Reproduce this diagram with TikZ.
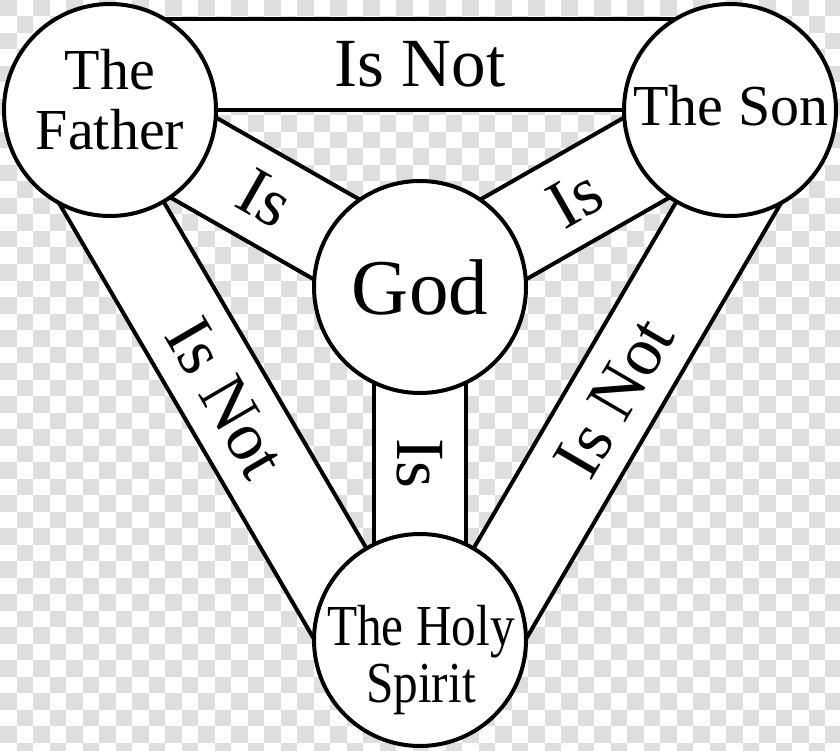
\documentclass[tikz,border=0pt]{standalone}
\usepackage{fontspec}
\setmainfont{Liberation Serif}
\newfontfamily\narrowserif[FakeStretch=0.85]{Liberation Serif}
\definecolor{checkgray}{HTML}{DEDEDE}
\usepackage{tikz}
\usetikzlibrary{calc}

\begin{document}
\begin{tikzpicture}[x=1pt, y=-1pt,
  band/.style={draw=black, fill=white, line width=4pt},
  person/.style={circle, draw=black, fill=white, line width=4pt, minimum size=212pt, inner sep=0pt},
  bandtext/.style={inner sep=0pt, font=\fontsize{69}{72}\selectfont},
  persontext/.style={inner sep=0pt, align=center, font=\fontsize{58}{60}\selectfont}]
\useasboundingbox (0,0) rectangle (840,751);
% checkered backdrop
\fill[white] (0,0) rectangle (840,751);
\begin{scope}
\clip (0,0) rectangle (840,751);
\foreach \i in {0,...,50}
  \foreach \j in {0,...,45} {
    \pgfmathtruncatemacro{\parity}{mod(\i+\j,2)}
    \ifnum\parity=0 \fill[checkgray] (\i*16.5,\j*16.5) rectangle ++(16.5,16.5); \fi
  }
\end{scope}
\coordinate (F) at (110,110);
\coordinate (S) at (730,110);
\coordinate (G) at (420,287);
\coordinate (H) at (420,640);
% outer bands
\draw[band] (F) -- ($(F)!91pt!90:(S)$) coordinate (FSa) -- ($(S)!91pt!-90:(F)$) -- (S) -- cycle;
\draw[band] (F) -- ($(F)!91pt!-90:(H)$) coordinate (FHa) -- ($(H)!91pt!90:(F)$) -- (H) -- cycle;
\draw[band] (S) -- ($(S)!91pt!90:(H)$) coordinate (SHa) -- ($(H)!91pt!-90:(S)$) -- (H) -- cycle;
% inner bands
\draw[band] ($(F)!46pt!90:(G)$) -- ($(G)!46pt!-90:(F)$) -- ($(G)!46pt!90:(F)$) -- ($(F)!46pt!-90:(G)$) -- cycle;
\draw[band] ($(S)!46pt!90:(G)$) -- ($(G)!46pt!-90:(S)$) -- ($(G)!46pt!90:(S)$) -- ($(S)!46pt!-90:(G)$) -- cycle;
\draw[band] ($(G)!46pt!90:(H)$) -- ($(H)!46pt!-90:(G)$) -- ($(H)!46pt!90:(G)$) -- ($(G)!46pt!-90:(H)$) -- cycle;
\node[bandtext] (fs) at ($(FSa)!0.5!(S)$) {Is Not};
\node[bandtext, rotate=-59.7] (fh) at ($(FHa)!0.5!(H)$) {Is Not};
\node[bandtext, rotate=59.7] (sh) at ($(SHa)!0.5!(H)$) {Is Not};
\node[bandtext, rotate=-29.7] (fg) at ($(F)!0.5!(G)$) {Is};
\node[bandtext, rotate=29.7] (sg) at ($(S)!0.5!(G)$) {Is};
\node[bandtext, rotate=-90] (gh) at ($(G)!0.5!(H)$) {Is};
% the four circles
\node[person] (father) at (F) {};
\node[person] (son) at (S) {};
\node[person, font=\fontsize{79}{80}\selectfont] (god) at (G) {God};
\node[person] (spirit) at (H) {};
\node[persontext] (fathertext) at ($(F)+(0,-10)$) {The\\Father};
\node[persontext] (sontext) at ($(S)+(1,-4)$) {The Son};
\node[persontext, font=\narrowserif\fontsize{58}{57}\selectfont] (spirittext) at ($(H)+(1,20)$) {The Holy\\Spirit};
\end{tikzpicture}
\end{document}
